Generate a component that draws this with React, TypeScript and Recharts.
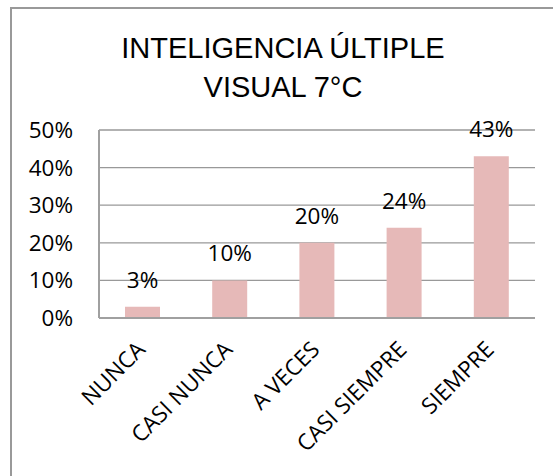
import { BarChart, Bar, XAxis, YAxis, CartesianGrid, LabelList } from 'recharts'

const categories = ['NUNCA', 'CASI NUNCA', 'A VECES', 'CASI SIEMPRE', 'SIEMPRE']
const values = [0.03, 0.1, 0.2, 0.24, 0.43]
const yTicks = [0, 0.1, 0.2, 0.3, 0.4, 0.5]
const titleLines = ['INTELIGENCIA ÚLTIPLE', 'VISUAL 7°C']

const BAR_COLOR = '#E6B9B8'
const GRID_COLOR = '#999999'
const AXIS_COLOR = '#a0a0a0'
const FONT = 'Open Sans'
const FONT_SIZE = 22.5

const pct = (v: number) => `${Math.round(v * 100)}%`

const chartData = categories.map((cat, i) => ({ cat, value: values[i] }))

// rotated category label, anchored at its end just under the axis
function SlantTick(props: any) {
  const { x, y, payload } = props
  const tx = x + 4
  const ty = y + 33
  return (
    <text
      x={tx}
      y={ty}
      transform={`rotate(-45, ${tx}, ${ty})`}
      textAnchor="end"
      fill="#000"
      fontSize={FONT_SIZE}
      fontFamily={FONT}
    >
      {payload.value}
    </text>
  )
}

export default function App() {
  return (
    <div
      style={{
        position: 'fixed',
        left: 0,
        top: 0,
        width: 553,
        height: 476,
        overflow: 'hidden',
        background: '#fff',
      }}
    >
      <div
        style={{
          position: 'absolute',
          left: 10,
          top: 7,
          width: 600,
          height: 600,
          border: '2px solid #999',
        }}
      />
      <div
        style={{
          position: 'absolute',
          left: 0,
          top: 28.5,
          width: 566,
          textAlign: 'center',
          fontFamily: '"Liberation Sans", Arial, sans-serif',
          fontSize: 29,
          lineHeight: '39px',
          color: '#000',
        }}
      >
        {titleLines.map((t) => (
          <div key={t}>{t}</div>
        ))}
      </div>
      <div style={{ position: 'absolute', left: 0, top: 0 }}>
        <BarChart
          width={553}
          height={476}
          data={chartData}
          margin={{ top: 130, right: 18, bottom: 38, left: 0 }}
        >
          <CartesianGrid vertical={false} stroke={GRID_COLOR} strokeWidth={1.3} />
          <XAxis
            dataKey="cat"
            height={120}
            interval={0}
            tickLine={false}
            tickSize={0}
            tickMargin={0}
            axisLine={{ stroke: AXIS_COLOR, strokeWidth: 2 }}
            tick={<SlantTick />}
          />
          <YAxis
            width={99}
            domain={[0, 0.5]}
            ticks={yTicks}
            tickFormatter={pct}
            tickLine={false}
            tickSize={0}
            tickMargin={26}
            axisLine={{ stroke: AXIS_COLOR, strokeWidth: 2 }}
            tick={{ fill: '#000', fontSize: FONT_SIZE, fontFamily: FONT }}
          />
          <Bar dataKey="value" fill={BAR_COLOR} barSize={35} isAnimationActive={false}>
            <LabelList
              dataKey="value"
              position="top"
              offset={19}
              formatter={(v: any) => pct(Number(v))}
              fill="#000"
              fontSize={FONT_SIZE}
              fontFamily={FONT}
            />
          </Bar>
        </BarChart>
      </div>
    </div>
  )
}
